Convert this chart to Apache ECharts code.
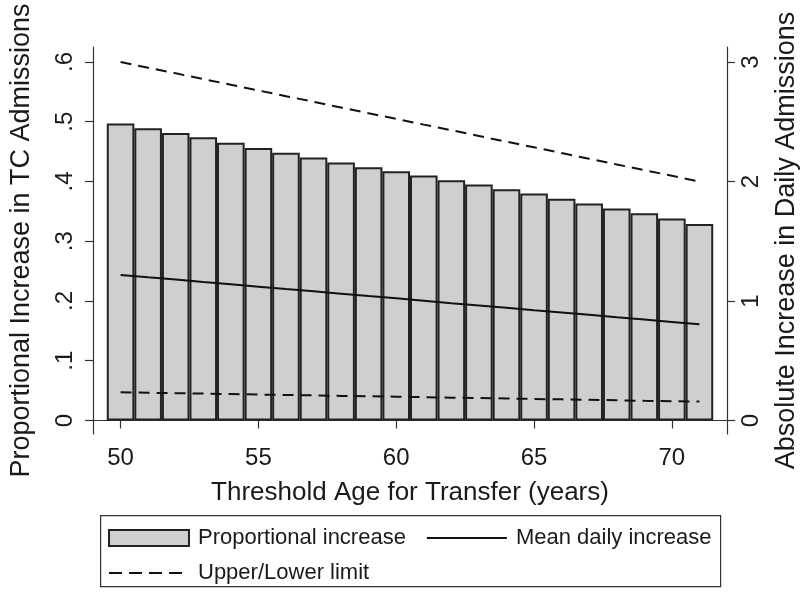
<!DOCTYPE html>
<html>
<head>
<meta charset="utf-8">
<script src="https://cdn.jsdelivr.net/npm/echarts@6/dist/echarts.min.js"></script>
<style>html,body{margin:0;padding:0;background:#fff;}#c{width:800px;height:596px;}</style>
</head>
<body>
<div id="c"></div>
<script>
var ages = [50,51,52,53,54,55,56,57,58,59,60,61,62,63,64,65,66,67,68,69,70,71];
var propIncrease = [0.497,0.489,0.481,0.474,0.465,0.456,0.448,0.440,0.432,0.424,0.417,0.410,0.402,0.395,0.387,0.380,0.371,0.363,0.355,0.347,0.338,0.329];
var meanDaily = [1.218,1.198,1.179,1.159,1.140,1.120,1.100,1.081,1.061,1.041,1.022,1.002,0.982,0.963,0.943,0.923,0.904,0.884,0.864,0.845,0.825,0.805];
var upperLimit = [3.000,2.952,2.905,2.857,2.810,2.762,2.714,2.667,2.619,2.571,2.524,2.476,2.429,2.381,2.333,2.286,2.238,2.190,2.143,2.095,2.048,2.000];
var lowerLimit = [0.236,0.232,0.229,0.225,0.221,0.217,0.214,0.210,0.206,0.203,0.199,0.195,0.191,0.188,0.184,0.180,0.177,0.173,0.169,0.165,0.162,0.158];
var xTicks = [50,55,60,65,70];
var leftTicks = [0,0.1,0.2,0.3,0.4,0.5,0.6];
var rightTicks = [0,1,2,3];

function pairs(vals){ return ages.map(function(a,i){ return [a, vals[i]]; }); }

var FONT = '"Liberation Sans", Arial, sans-serif';
var TXT = '#1a1a1a';
var AX = '#333';

var chart = echarts.init(document.getElementById('c'), null, {renderer:'canvas'});
chart.setOption({
  animation: false,
  backgroundColor: '#fff',
  textStyle: {fontFamily: FONT, color: TXT},
  grid: {left: 93, right: 73, top: 47, bottom: 162, containLabel: false, outerBoundsMode: 'none'},
  xAxis: {
    type: 'value', min: 49, max: 72,
    name: 'Threshold Age for Transfer (years)', nameLocation: 'middle', nameGap: 46,
    nameTextStyle: {fontSize: 26, color: TXT, fontFamily: FONT},
    axisLine: {show: true, lineStyle: {color: AX, width: 1.2}},
    axisTick: {show: true, length: 8, customValues: xTicks, lineStyle: {color: AX, width: 1.2}},
    axisLabel: {customValues: xTicks, fontSize: 24, color: TXT, margin: 12, fontFamily: FONT},
    splitLine: {show: false}
  },
  yAxis: [{
    type: 'value', min: -0.0226, max: 0.6251, position: 'left',
    name: 'Proportional Increase in TC Admissions', nameLocation: 'middle', nameGap: 58, nameRotate: 90,
    nameTextStyle: {fontSize: 27, color: TXT, fontFamily: FONT},
    axisLine: {show: true, lineStyle: {color: AX, width: 1.2}},
    axisTick: {show: true, length: 8, customValues: leftTicks, lineStyle: {color: AX, width: 1.2}},
    axisLabel: {customValues: leftTicks, rotate: 90, fontSize: 24, color: TXT, margin: 16, fontFamily: FONT,
      formatter: function(v){ return v === 0 ? '0' : String(+v.toFixed(1)).replace(/^0/, ''); }},
    splitLine: {show: false}
  },{
    type: 'value', min: -0.113, max: 3.1255, position: 'right',
    name: 'Absolute Increase in Daily Admissions', nameLocation: 'middle', nameGap: 46, nameRotate: 90,
    nameTextStyle: {fontSize: 27, color: TXT, fontFamily: FONT},
    axisLine: {show: true, lineStyle: {color: AX, width: 1.2}},
    axisTick: {show: true, length: 8, customValues: rightTicks, lineStyle: {color: AX, width: 1.2}},
    axisLabel: {customValues: rightTicks, rotate: 90, fontSize: 24, color: TXT, margin: 12, fontFamily: FONT},
    splitLine: {show: false}
  }],
  legend: [{
    left: 108, top: 527, padding: 0, itemWidth: 80, itemHeight: 16, itemGap: 20,
    data: [
      {name: 'Proportional increase', icon: 'rect'},
      {name: 'Mean daily increase', itemStyle: {opacity: 0}}
    ],
    textStyle: {fontSize: 22, color: TXT, fontFamily: FONT, padding: [0,0,0,4]}
  },{
    left: 108, top: 562, padding: 0, itemWidth: 74, itemHeight: 16,
    data: [{name: 'Upper/Lower limit', itemStyle: {opacity: 0}, lineStyle: {type: [13, 7]}}],
    textStyle: {fontSize: 22, color: TXT, fontFamily: FONT, padding: [0,0,0,10]}
  }],
  graphic: [{
    type: 'rect', left: 100, top: 515, z: -1,
    shape: {width: 620, height: 71},
    style: {fill: '#fff', stroke: '#333', lineWidth: 1.2}
  }],
  series: [{
    name: 'Proportional increase', type: 'bar', yAxisIndex: 0,
    data: pairs(propIncrease), barWidth: 27.6,
    itemStyle: {color: '#cfcfcf', borderColor: '#222', borderWidth: 2}
  },{
    name: 'Mean daily increase', type: 'line', yAxisIndex: 1,
    data: pairs(meanDaily), symbol: 'none',
    itemStyle: {color: '#111'},
    lineStyle: {color: '#111', width: 2}
  },{
    name: 'Upper/Lower limit', type: 'line', yAxisIndex: 1,
    data: pairs(upperLimit), symbol: 'none',
    itemStyle: {color: '#111'},
    lineStyle: {color: '#111', width: 2, type: [11, 7]}
  },{
    name: 'Upper/Lower limit', type: 'line', yAxisIndex: 1,
    data: pairs(lowerLimit), symbol: 'none',
    itemStyle: {color: '#111'},
    lineStyle: {color: '#111', width: 2, type: [11, 7]}
  }]
});
</script>
</body>
</html>
